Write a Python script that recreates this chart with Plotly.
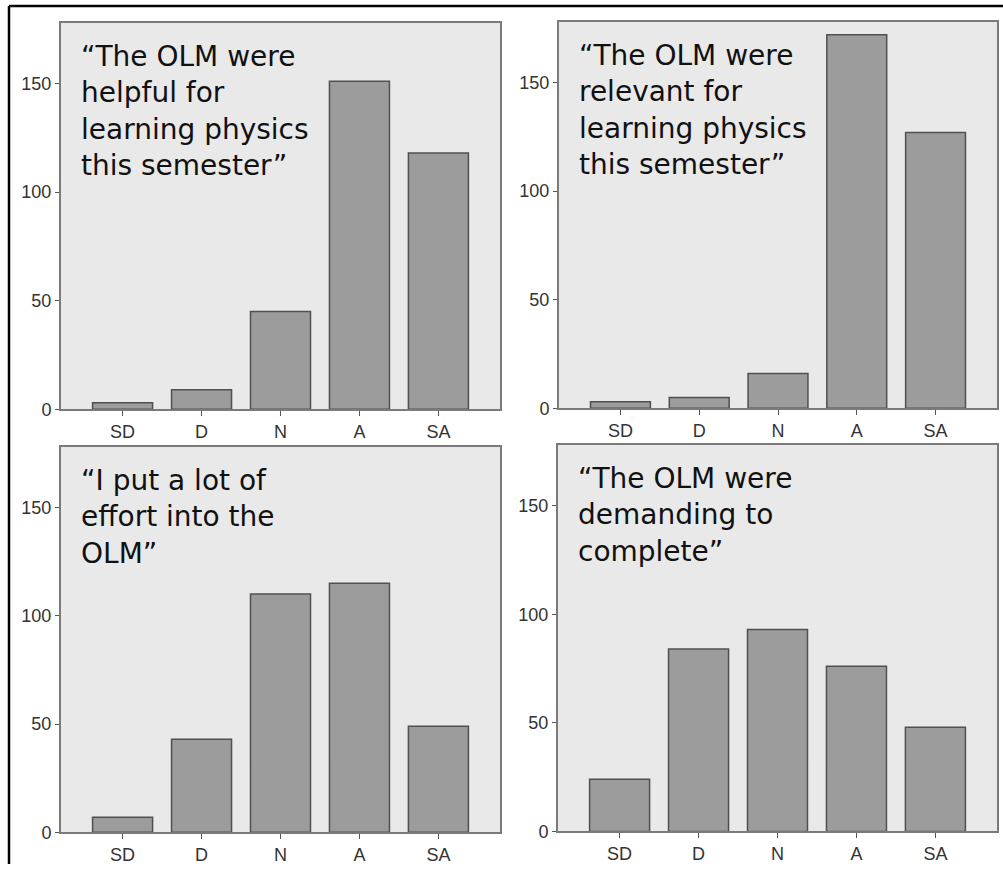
import plotly.graph_objects as go

categories = ["SD", "D", "N", "A", "SA"]
helpful = [3, 9, 45, 151, 118]
relevant = [3, 5, 16, 172, 127]
effort = [7, 43, 110, 115, 49]
demanding = [24, 84, 93, 76, 48]
titles = [
    "“The OLM were<br>helpful for<br>learning physics<br>this semester”",
    "“The OLM were<br>relevant for<br>learning physics<br>this semester”",
    "“I put a lot of<br>effort into the<br>OLM”",
    "“The OLM were<br>demanding to<br>complete”",
]
y_ticks = [0, 50, 100, 150]

W, H = 1003, 874
# pixel boxes (left, top, right, bottom)
boxes = [(61, 23, 500, 414), (559, 22, 997, 413), (61, 452, 500, 842), (558, 450, 997, 841)]
series = [helpful, relevant, effort, demanding]

fig = go.Figure()
tick_font = "Arial, Liberation Sans, sans-serif"
title_font = "DejaVu Sans, Arial, sans-serif"
for i, (vals, box, title) in enumerate(zip(series, boxes, titles)):
    n = i + 1
    xa = "x" if n == 1 else f"x{n}"
    ya = "y" if n == 1 else f"y{n}"
    fig.add_trace(go.Bar(
        x=categories, y=vals, xaxis=xa, yaxis=ya, width=0.76,
        marker=dict(color="#9c9c9c", line=dict(color="#505050", width=1.5)),
        showlegend=False, hoverinfo="x+y",
    ))
    l, t, r, b = box
    xd = [l / W, r / W]
    yd = [1 - b / H, 1 - t / H]
    xkey = "xaxis" if n == 1 else f"xaxis{n}"
    ykey = "yaxis" if n == 1 else f"yaxis{n}"
    fig.update_layout(**{
        xkey: dict(domain=xd, anchor=ya, range=[-0.78, 4.78], type="category",
                   showgrid=False, showline=True, mirror=True, linecolor="#7a7a7a",
                   linewidth=2, ticks="outside", ticklen=5, tickcolor="#555",
                   tickfont=dict(family=tick_font, size=18, color="#333"),
                   zeroline=False, fixedrange=True),
        ykey: dict(domain=yd, anchor=xa, range=[0, 178], tickvals=y_ticks,
                   showgrid=False, showline=True, mirror=True, linecolor="#7a7a7a",
                   linewidth=2, ticks="outside", ticklen=4, tickcolor="#555",
                   tickfont=dict(family=tick_font, size=18, color="#333"),
                   zeroline=False, fixedrange=True),
    })
    fig.add_annotation(
        text=title, xref=f"{xa} domain", yref=f"{ya} domain",
        x=18 / (r - l), y=1 - 15 / (b - t), xanchor="left", yanchor="top",
        align="left", showarrow=False,
        font=dict(family=title_font, size=28, color="#111"),
    )

shapes = [
    dict(type="line", xref="paper", yref="paper", x0=9 / W, x1=1, y0=1 - 6 / H, y1=1 - 6 / H,
         line=dict(color="black", width=2.5)),
    dict(type="line", xref="paper", yref="paper", x0=9 / W, x1=9 / W, y0=0, y1=1 - 6 / H,
         line=dict(color="black", width=2.5)),
]

fig.update_layout(
    width=W, height=H, margin=dict(l=0, r=0, t=0, b=0),
    paper_bgcolor="white", plot_bgcolor="#e9e9e9",
    shapes=shapes, bargap=0.2,
)
fig.write_html("out.html", config={"displayModeBar": False},
               post_script="document.body.style.margin='0';document.body.style.overflow='hidden';")
